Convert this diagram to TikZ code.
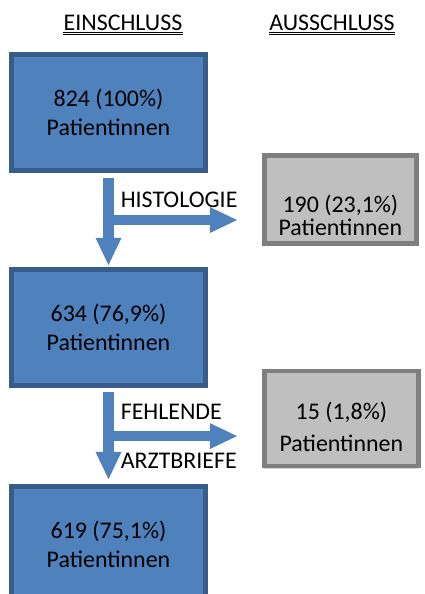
\documentclass[tikz,border=0pt]{standalone}
\usepackage{fontspec}
\setmainfont{Carlito}
\usetikzlibrary{positioning, arrows.meta, calc, shadows}
\definecolor{einfill}{RGB}{79,129,189}
\definecolor{einline}{RGB}{56,93,138}
\definecolor{ausfill}{RGB}{191,191,191}
\definecolor{ausline}{RGB}{127,127,127}

\begin{document}
\begin{tikzpicture}[
        x=0.025cm, y=-0.025cm,
        txt/.style={font=\fontsize{17}{20.6}\selectfont},
        einbox/.style={txt, draw=einline, fill=einfill, line width=0.125cm, minimum width=4.85cm, minimum height=2.9cm, inner sep=0pt, align=center},
        ausbox/.style={draw=ausline, fill=ausfill, line width=0.115cm, inner sep=0pt, drop shadow={opacity=0.35, shadow xshift=0pt, shadow yshift=-0.07cm}},
        heading/.style={txt, inner sep=0pt, anchor=base},
        lbl/.style={txt, inner sep=0pt, anchor=base west},
        arrow/.style={draw=einfill, line width=0.25cm, -{Triangle[width=0.65cm, length=0.68cm, line width=0pt]}}
    ]
    \useasboundingbox (0,0) rectangle (425,594);
    \clip (0,0) rectangle (425,594);

    \node[heading] (EinHead) at (123,30.5) {EINSCHLUSS};
    \node[heading] (AusHead) at (332,30.5) {AUSSCHLUSS};
    \foreach \h in {EinHead, AusHead}
        \foreach \dy in {0.04cm, 0.1cm}
            \draw[line width=0.5pt] ([yshift=-\dy]\h.base west) -- ([yshift=-\dy]\h.base east);

    \node[einbox] (Ein1) at (108.5,112.5) {824 (100\%)\\Patientinnen};
    \node[einbox, below=2.35cm of Ein1] (Ein2) {634 (76,9\%)\\Patientinnen};
    \node[einbox, below=2.4cm of Ein2] (Ein3) {619 (75,1\%)\\Patientinnen};

    \node[ausbox, minimum width=3.8cm, minimum height=2.2cm, right=1.35cm of Ein1, yshift=-2.175cm] (Aus1) {};
    \node[txt, align=center, font=\fontsize{17}{16.5}\selectfont] (Aus1Text) at ([yshift=-0.4cm]Aus1.center) {190 (23,1\%)\\Patientinnen};
    \node[ausbox, minimum width=3.85cm, minimum height=2.375cm, right=1.35cm of Ein2, yshift=-2.275cm] (Aus2) {};
    \node[txt, align=center, font=\fontsize{17}{22.8}\selectfont] (Aus2Text) at ([yshift=-0.2cm]Aus2.center) {15 (1,8\%)\\Patientinnen};

    \coordinate (Split1) at ($(Ein1.south)!0.5!(Ein2.north)$);
    \coordinate (Split2) at ($(Ein2.south)!0.5!(Ein3.north)$);

    \draw[arrow, shorten <=0.125cm, shorten >=0.05cm] (Ein1) -- (Ein2);
    \draw[arrow, shorten <=0.1cm, shorten >=0.125cm] (Ein2) -- (Ein3);
    \draw[arrow, shorten >=0.625cm] (Split1) -- (Split1 -| Aus1.west);
    \draw[arrow, shorten >=0.625cm] (Split2) -- (Split2 -| Aus2.west);

    \node[lbl] (Histo) at ([xshift=0.3cm, yshift=0.325cm]Split1) {HISTOLOGIE};
    \node[lbl] (Fehl) at ([xshift=0.3cm, yshift=0.425cm]Split2) {FEHLENDE};
    \node[lbl] (Arzt) at ([xshift=0.3cm, yshift=-0.8cm]Split2) {ARZTBRIEFE};

\end{tikzpicture}
\end{document}
